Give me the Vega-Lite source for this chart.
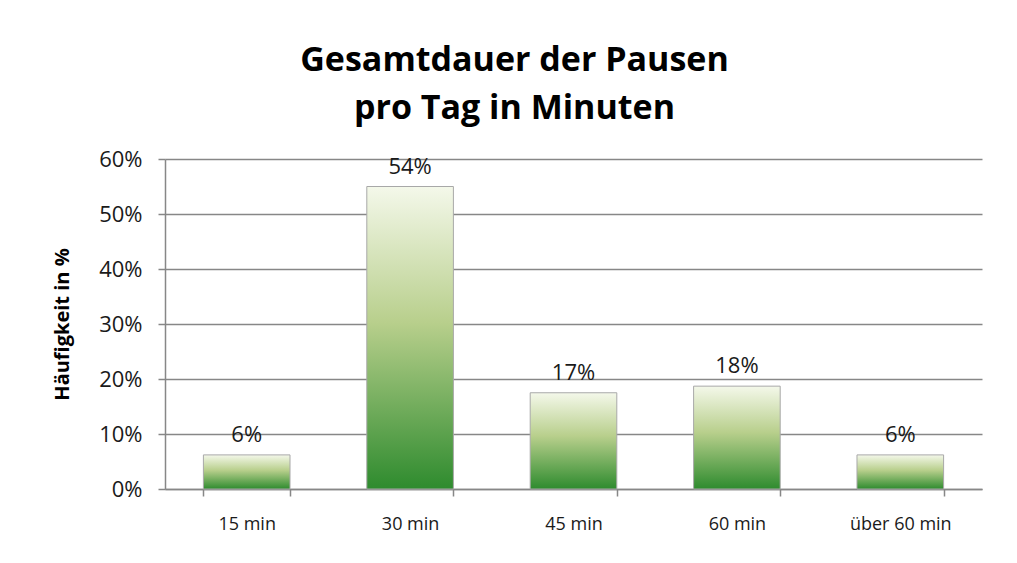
{
  "$schema": "https://vega.github.io/schema/vega-lite/v6.json",
  "width": 817,
  "height": 330,
  "autosize": "none",
  "padding": {"left": 165, "top": 159, "right": 35, "bottom": 74},
  "background": "white",
  "title": {
    "text": ["Gesamtdauer der Pausen", "pro Tag in Minuten"],
    "font": "Open Sans",
    "fontSize": 34,
    "fontWeight": "bold",
    "color": "#000000",
    "lineHeight": 48,
    "anchor": "middle",
    "frame": "group",
    "dx": -59,
    "offset": 22
  },
  "data": {
    "values": [
      {"dauer": "15 min", "anteil": 0.062, "label": "6%"},
      {"dauer": "30 min", "anteil": 0.55, "label": "54%"},
      {"dauer": "45 min", "anteil": 0.175, "label": "17%"},
      {"dauer": "60 min", "anteil": 0.187, "label": "18%"},
      {"dauer": "über 60 min", "anteil": 0.062, "label": "6%"}
    ]
  },
  "encoding": {
    "x": {
      "field": "dauer",
      "type": "nominal",
      "sort": null,
      "scale": {"paddingInner": 0.47, "paddingOuter": 0.235},
      "axis": {
        "title": null,
        "labelAngle": 0,
        "labelFont": "Open Sans",
        "labelFontSize": 18,
        "labelColor": "#1a1a1a",
        "labelPadding": 19,
        "domainColor": "#878787",
        "domainWidth": 1.5,
        "tickColor": "#878787",
        "tickWidth": 1.5,
        "tickSize": 7,
        "tickBand": "extent",
        "grid": false
      }
    },
    "y": {
      "field": "anteil",
      "type": "quantitative",
      "scale": {"domain": [0, 0.6], "nice": false},
      "axis": {
        "title": "Häufigkeit in %",
        "titleFont": "Open Sans",
        "titleFontSize": 20,
        "titleFontWeight": "bold",
        "titleColor": "#000000",
        "titlePadding": 26,
        "format": ".0%",
        "values": [0, 0.1, 0.2, 0.3, 0.4, 0.5, 0.6],
        "labelFont": "Open Sans",
        "labelFontSize": 22,
        "labelColor": "#1a1a1a",
        "labelPadding": 16,
        "gridColor": "#878787",
        "gridWidth": 1.5,
        "domainColor": "#878787",
        "domainWidth": 1.5,
        "tickColor": "#878787",
        "tickWidth": 1.5,
        "tickSize": 7
      }
    }
  },
  "layer": [
    {
      "mark": {
        "type": "bar",
        "color": {
          "gradient": "linear",
          "x1": 0, "y1": 0, "x2": 0, "y2": 1,
          "stops": [
            {"offset": 0, "color": "#f4f8ea"},
            {"offset": 0.45, "color": "#b8cf8c"},
            {"offset": 1, "color": "#2e8b2e"}
          ]
        },
        "stroke": "#a8a8a8",
        "strokeWidth": 1
      }
    },
    {
      "mark": {
        "type": "text",
        "baseline": "alphabetic",
        "dy": -13,
        "font": "Open Sans",
        "fontSize": 22,
        "color": "#1a1a1a"
      },
      "encoding": {"text": {"field": "label"}}
    }
  ],
  "config": {"view": {"stroke": null}}
}
